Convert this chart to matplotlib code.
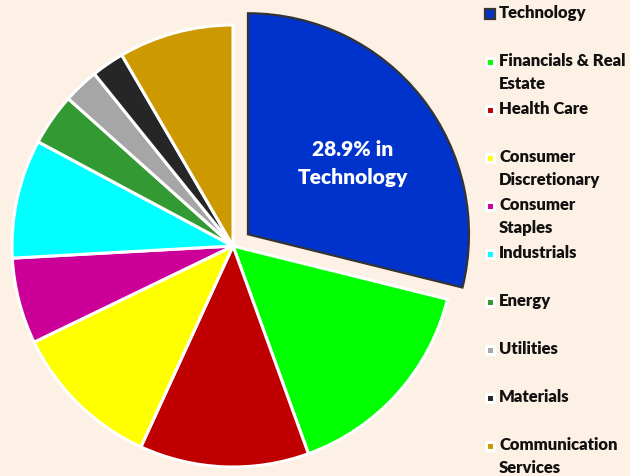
import matplotlib
matplotlib.use("Agg")
import matplotlib.pyplot as plt
import numpy as np

categories = ["Technology", "Financials & Real Estate", "Health Care", "Consumer Discretionary",
              "Consumer Staples", "Industrials", "Energy", "Utilities", "Materials",
              "Communication Services"]
legend_labels = ["Technology", "Financials & Real\nEstate", "Health Care", "Consumer\nDiscretionary",
                 "Consumer\nStaples", "Industrials", "Energy", "Utilities", "Materials",
                 "Communication\nServices"]
values = [28.9, 15.6, 12.4, 11.0, 6.3, 8.7, 3.8, 2.6, 2.4, 8.4]
colors = ["#0033CC", "#00FF00", "#C00000", "#FFFF00", "#CC0099", "#00FFFF",
          "#339933", "#A6A6A6", "#262626", "#CC9900"]

BG = "#FDF0E4"
W, H = 630, 476
FONT = "Lato"
fig = plt.figure(figsize=(W / 100, H / 100), dpi=100, facecolor=BG)
ax = fig.add_axes([0, 0, 1, 1])
ax.set_facecolor(BG)

R = 221
cx, cy = 233, H - 246
explode = [19] + [0] * (len(values) - 1)
wedges, _ = ax.pie(values, colors=colors, startangle=90, counterclock=False,
                   center=(cx, cy), radius=R, explode=explode,
                   wedgeprops=dict(edgecolor="white", linewidth=2.2), frame=True)
ax.set_xlim(0, W)
ax.set_ylim(0, H)
ax.set_aspect("equal")
ax.axis("off")
wedges[0].set_edgecolor("#333333")
wedges[0].set_linewidth(1.6)
wedges[0].set_zorder(5)

# label inside technology slice
w0 = wedges[0]
tm = np.deg2rad((w0.theta1 + w0.theta2) / 2)
lx = w0.center[0] + 0.55 * R * np.cos(tm) + 9
ly = w0.center[1] + 0.55 * R * np.sin(tm) - 4
ax.text(lx, ly, f"{values[0]:.1f}% in\n{categories[0]}", color="white", ha="center",
        va="center", fontsize=15, fontweight="heavy", family=FONT,
        linespacing=1.55, zorder=6)

# legend
for i, (lab, col) in enumerate(zip(legend_labels, colors)):
    y = H - (14 + 48 * i)
    if i == 0:
        ax.plot(490, y, marker="s", markersize=7.5, color=col, markeredgecolor="#333333",
                markeredgewidth=1.6, clip_on=False)
    else:
        ax.plot(490, y, marker="s", markersize=6, color=col, markeredgecolor="white",
                markeredgewidth=2.2, clip_on=False)
    ax.text(499, y + 9, lab, ha="left", va="top", fontsize=12, fontweight="heavy",
            family=FONT, color="#111111", linespacing=1.52)

fig.savefig("out.png", dpi=100, facecolor=BG)
